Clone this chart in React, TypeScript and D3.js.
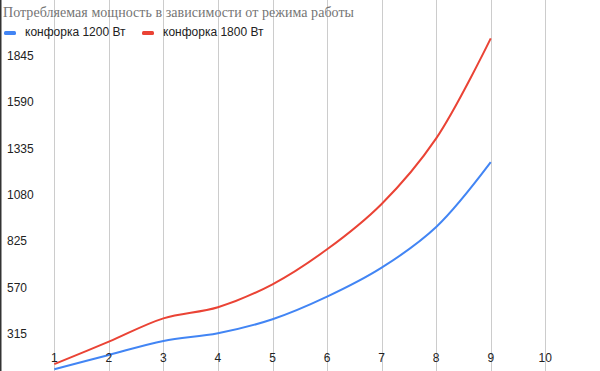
import React from "react";
import * as d3 from "d3";

const categories = [1, 2, 3, 4, 5, 6, 7, 8, 9];
const xTicks = [1, 2, 3, 4, 5, 6, 7, 8, 9, 10];
const series1200 = [121, 200, 277, 319, 396, 520, 679, 902, 1258];
const series1800 = [150, 273, 401, 462, 588, 780, 1029, 1389, 1938];
const yTicks = [315, 570, 825, 1080, 1335, 1590, 1845];
const seriesNames = ["конфорка 1200 Вт", "конфорка 1800 Вт"];
const colors = ["#4285F4", "#EA4335"];
const title = "Потребляемая мощность в зависимости от режима работы";

const W = 600;
const H = 371;

export default function App() {
  const x = d3.scaleLinear().domain([1, 10]).range([54.3, 545.3]);
  const y = d3.scaleLinear().domain([315, 1845]).range([334, 55.3]);
  const line = d3
    .line<number>()
    .x((_, i) => x(categories[i]))
    .y((d) => y(d))
    .curve(d3.curveCatmullRom.alpha(0.5));
  const allSeries = [series1200, series1800];
  const legendX = [4, 142];
  return (
    <svg
      width={W}
      height={H}
      style={{ position: "absolute", left: 0, top: 0, display: "block", background: "#fff" }}
    >
      <rect x={0} y={0} width={W} height={H} fill="#fff" />
      {xTicks.map((t) => (
        <line
          key={t}
          x1={Math.round(x(t)) + 0.5}
          x2={Math.round(x(t)) + 0.5}
          y1={0}
          y2={H}
          stroke="#cccccc"
          strokeWidth={1}
        />
      ))}
      <rect x={0} y={0} width={1.5} height={H} fill="#333" />
      <text
        x={3}
        y={17}
        fontFamily="Liberation Serif"
        fontSize={14}
        fill="#757575"
        textLength={351}
        lengthAdjust="spacing"
      >
        {title}
      </text>
      {seriesNames.map((n, i) => (
        <g key={n}>
          <rect x={legendX[i]} y={31} width={12} height={4} rx={1.5} fill={colors[i]} />
          <text
            x={legendX[i] + 21}
            y={36}
            fontFamily="Liberation Sans"
            fontSize={12}
            fill="#222"
          >
            {n}
          </text>
        </g>
      ))}
      {yTicks.map((t) => (
        <text
          key={t}
          x={7}
          y={y(t)}
          dy="0.36em"
          fontFamily="Liberation Sans"
          fontSize={12}
          fill="#222"
        >
          {t}
        </text>
      ))}
      {allSeries.map((s, i) => (
        <path key={i} d={line(s) || ""} fill="none" stroke={colors[i]} strokeWidth={2} />
      ))}
      {xTicks.map((t) => (
        <text
          key={t}
          x={x(t)}
          y={362}
          textAnchor="middle"
          fontFamily="Liberation Sans"
          fontSize={12}
          fill="#222"
        >
          {t}
        </text>
      ))}
    </svg>
  );
}
